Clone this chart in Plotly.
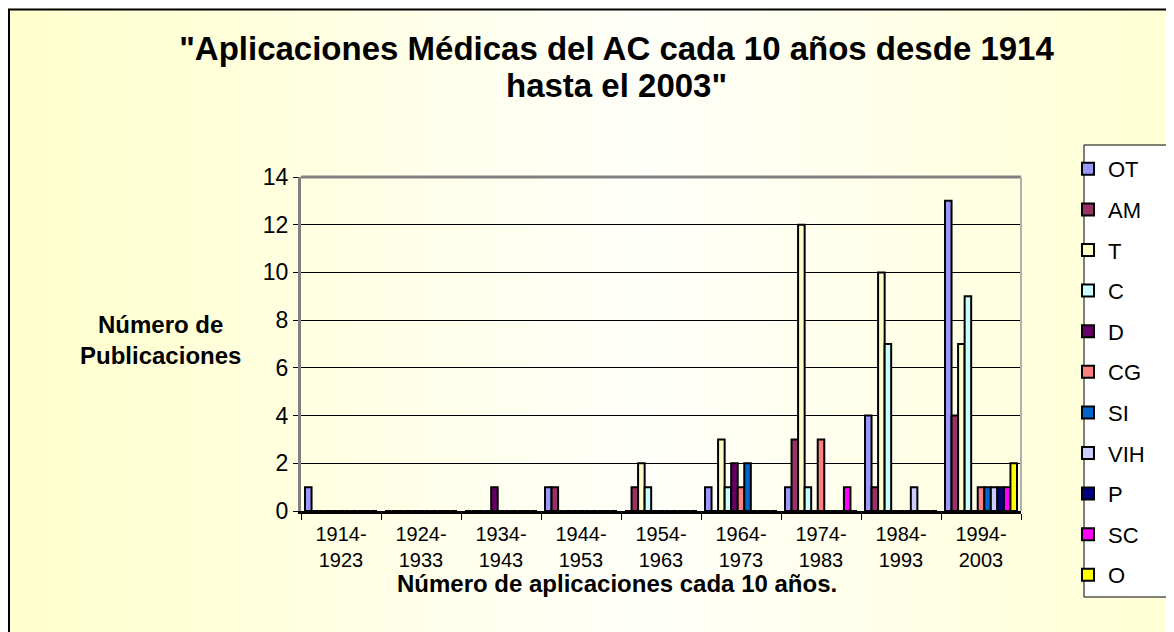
import base64, struct, zlib
import plotly.graph_objects as go

categories = ["1914-<br>1923", "1924-<br>1933", "1934-<br>1943", "1944-<br>1953", "1954-<br>1963",
              "1964-<br>1973", "1974-<br>1983", "1984-<br>1993", "1994-<br>2003"]
ot  = [1, 0, 0, 1, 0, 1, 1, 4, 13]
am  = [0, 0, 0, 1, 1, 0, 3, 1, 4]
t   = [0, 0, 0, 0, 2, 3, 12, 10, 7]
c   = [0, 0, 0, 0, 1, 1, 1, 7, 9]
d   = [0, 0, 1, 0, 0, 2, 0, 0, 0]
cg  = [0, 0, 0, 0, 0, 1, 3, 0, 1]
si  = [0, 0, 0, 0, 0, 2, 0, 0, 1]
vih = [0, 0, 0, 0, 0, 0, 0, 1, 1]
p   = [0, 0, 0, 0, 0, 0, 0, 0, 1]
sc  = [0, 0, 0, 0, 0, 0, 1, 0, 1]
o   = [0, 0, 0, 0, 0, 0, 0, 0, 2]

series = [("OT", ot, "#9999FF"), ("AM", am, "#993366"), ("T", t, "#FFFFCC"), ("C", c, "#CCFFFF"),
          ("D", d, "#660066"), ("CG", cg, "#FF8080"), ("SI", si, "#0066CC"), ("VIH", vih, "#CCCCFF"),
          ("P", p, "#000080"), ("SC", sc, "#FF00FF"), ("O", o, "#FFFF00")]

title_line1 = "\"Aplicaciones Médicas del AC cada 10 años desde 1914"
title_line2 = "hasta el 2003\""

FONT = "Liberation Sans, Arial, sans-serif"

# gradient background image (horizontal yellow -> white -> yellow)
def make_png(w, h, pixels):
    raw = b"".join(b"\x00" + bytes(row) for row in pixels)
    def chunk(tag, data):
        return struct.pack(">I", len(data)) + tag + data + struct.pack(">I", zlib.crc32(tag + data) & 0xffffffff)
    return (b"\x89PNG\r\n\x1a\n" + chunk(b"IHDR", struct.pack(">IIBBBBB", w, h, 8, 2, 0, 0, 0))
            + chunk(b"IDAT", zlib.compress(raw)) + chunk(b"IEND", b""))

GW = 256
row = []
for i in range(GW):
    f = i / (GW - 1)
    k = min(1.0, abs(f - 0.55) / 0.55)
    b = int(round(250 - (250 - 204) * k))
    row += [255, 255, b]
img_src = "data:image/png;base64," + base64.b64encode(make_png(GW, 1, [row])).decode()

# figure is offset by the page body margin (8px)
FW, FH = 1166, 624
L, T = 293, 169
RIGHT, BOTTOM = 1013, 503
R, B = FW - RIGHT, FH - BOTTOM
PW, PH = RIGHT - L, BOTTOM - T

def px(xp):
    return (xp - L) / PW

def py(yp):
    return (BOTTOM - yp) / PH

fig = go.Figure()
for name, vals, col in series:
    fig.add_trace(go.Bar(x=categories, y=vals, name=name, legendgroup=name,
                         marker=dict(color=col, line=dict(color="black", width=2))))

fig.update_layout(
    width=FW, height=FH,
    margin=dict(l=L, r=R, t=T, b=B, autoexpand=False),
    paper_bgcolor="#FFFFE8",
    plot_bgcolor="rgba(0,0,0,0)",
    barmode="group", bargap=0.1, bargroupgap=0,
    font=dict(family=FONT, color="black"),
    title=dict(text=title_line1,
               font=dict(family=FONT, size=33, color="black", weight="bold"),
               x=608.5 / FW, xanchor="center", xref="container",
               y=1 - 40 / FH, yanchor="middle", yref="container"),
    xaxis=dict(tickson="boundaries", ticks="outside", ticklen=6, tickcolor="black",
               showline=True, linecolor="black", linewidth=3, showgrid=False,
               tickfont=dict(size=20, family=FONT), range=[-0.5, 8.5],
               ticklabelstandoff=3),
    yaxis=dict(range=[0, 14], dtick=2, showgrid=True, gridcolor="black", gridwidth=1,
               ticks="outside", ticklen=5, tickcolor="black", showline=True, linecolor="#808080",
               linewidth=3, tickfont=dict(size=23, family=FONT), zeroline=False),
    legend=dict(x=px(1060), y=py(140), xanchor="left", yanchor="top",
                bgcolor="rgba(0,0,0,0)", borderwidth=0,
                font=dict(size=22, family=FONT), tracegroupgap=9,
                itemwidth=30, maxheight=620),
    showlegend=True,
)

fig.add_layout_image(dict(source=img_src, xref="paper", yref="paper",
                          x=px(0), y=py(0), sizex=FW / PW, sizey=FH / PH,
                          sizing="stretch", layer="below", xanchor="left", yanchor="top"))

# outer chart border
fig.add_shape(type="rect", xref="paper", yref="paper", x0=px(1), x1=px(1200), y0=py(1.5), y1=py(660),
              line=dict(color="black", width=2), fillcolor="rgba(0,0,0,0)", layer="below")
# legend box
fig.add_shape(type="rect", xref="paper", yref="paper", x0=px(1076), x1=px(1200), y0=py(137), y1=py(589),
              line=dict(color="black", width=1), fillcolor="white", layer="below")
# wall top / right border
fig.add_shape(type="line", xref="paper", yref="paper", x0=0, x1=1, y0=1, y1=1,
              line=dict(color="#808080", width=3))
fig.add_shape(type="line", xref="paper", yref="paper", x0=1, x1=1, y0=0, y1=1,
              line=dict(color="#B0B0B0", width=2))

# second title line
fig.add_annotation(text="<b>" + title_line2 + "</b>", xref="paper", yref="paper",
                   x=px(608.5), y=py(77), showarrow=False, font=dict(size=33, family=FONT),
                   xanchor="center", yanchor="middle")
fig.add_annotation(text="<b>Número de<br>Publicaciones</b>", xref="paper", yref="paper",
                   x=px(152), y=py(332), showarrow=False, font=dict(size=24, family=FONT),
                   xanchor="center", yanchor="middle")
fig.add_annotation(text="<b>Número de aplicaciones cada 10 años.</b>", xref="paper", yref="paper",
                   x=px(609), y=py(575), showarrow=False, font=dict(size=24, family=FONT),
                   xanchor="center", yanchor="middle")

fig.write_html("out.html")
